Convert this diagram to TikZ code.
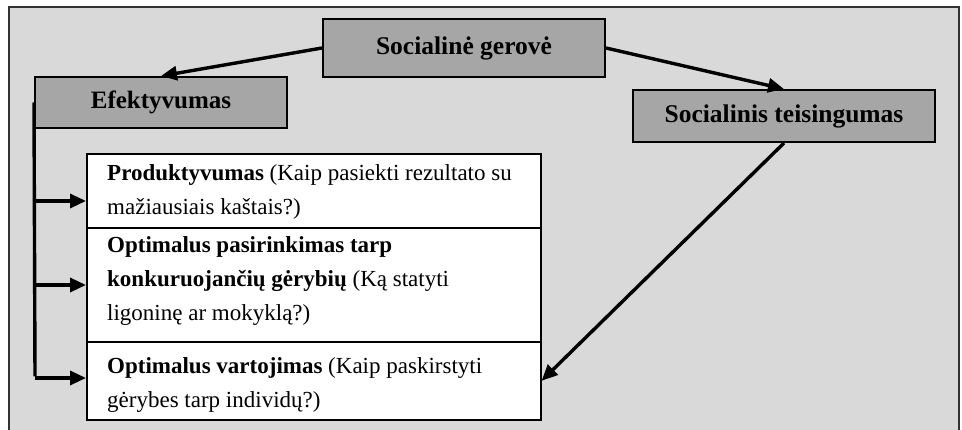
\documentclass[tikz,border=0pt]{standalone}
\usepackage{fontspec}
\setmainfont{Liberation Serif}
\usetikzlibrary{arrows.meta}
\definecolor{panel}{HTML}{D9D9D9}
\definecolor{head}{HTML}{A6A6A6}
\tikzset{
  headbox/.style={draw=black, line width=2pt, fill=head, inner sep=0pt,
    font=\fontsize{25.5}{30}\selectfont\bfseries},
  itembox/.style={draw=black, line width=1.6pt, fill=white, anchor=north west,
    inner sep=0pt, minimum width=454pt},
  itemtext/.style={anchor=north west, inner sep=0pt, align=left,
    font=\fontsize{23}{34}\selectfont},
  link/.style={line width=3.4pt, -{Triangle[length=16pt,width=14pt]}},
  rail/.style={line width=3.4pt}
}
\begin{document}
\begin{tikzpicture}[x=1pt,y=-1pt]
  \useasboundingbox (0,0) rectangle (962,430);
  % surrounding panel
  \fill[panel] (9,7) rectangle (959,440);
  \draw[line width=1.5pt, black!80] (9,440) -- (9,7) -- (959,7) -- (959,440);

  % heading boxes
  \node[headbox, minimum width=282pt, minimum height=58pt] (gerove) at (464,48) {Socialinė gerovė};
  \node[headbox, minimum width=252pt, minimum height=51pt, font=\fontsize{25}{29}\selectfont\bfseries] (efekt) at (161,102.5) {Efektyvumas};
  \node[headbox, minimum width=302pt, minimum height=52pt] (teis) at (784,116) {Socialinis teisingumas};

  % item boxes
  \node[itembox, minimum height=74pt] (prod) at (86,153) {};
  \node[itembox, minimum height=114pt] (pasir) at (86,227) {};
  \node[itembox, minimum height=78pt] (vart) at (86,341) {};

  % item texts
  \node[itemtext] (prodtxt) at (107,164)
    {\textbf{Produktyvumas} (Kaip pasiekti rezultato su\\mažiausiais kaštais?)};
  \node[itemtext] (pasirtxt) at (107,236)
    {\textbf{Optimalus pasirinkimas tarp}\\\textbf{konkuruojančių gėrybių} (Ką statyti\\ligoninę ar mokyklą?)};
  \node[itemtext] (varttxt) at (107,357)
    {\textbf{Optimalus vartojimas} (Kaip paskirstyti\\gėrybes tarp individų?)};

  % connectors from the top box
  \draw[link] (gerove.west) -- (efekt.north);
  \draw[link] (gerove.east) -- (teis.north);
  \draw[link] (teis.south) -- (vart.east);

  % branch rail from Efektyvumas
  \coordinate (r1) at (35,201);
  \coordinate (r2) at (35,285);
  \coordinate (r3) at (35,378);
  \draw[rail] (efekt.west) -- ([yshift=1.7pt]r3);
  \draw[link] (r1) -- (prod.west |- r1);
  \draw[link] (r2) -- (pasir.west |- r2);
  \draw[link] (r3) -- (vart.west |- r3);
\end{tikzpicture}
\end{document}
